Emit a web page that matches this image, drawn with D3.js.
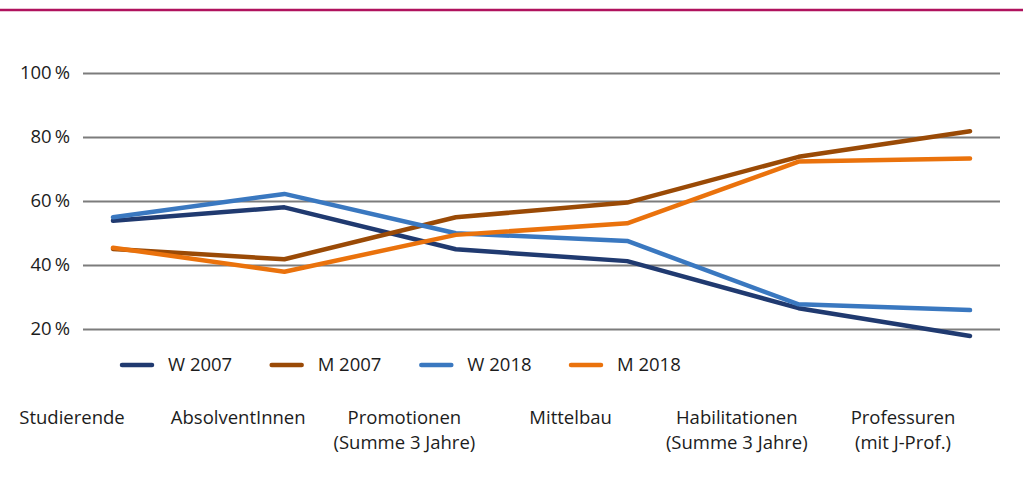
<!DOCTYPE html>
<html>
<head>
<meta charset="utf-8">
<script src="https://cdn.jsdelivr.net/npm/d3@7"></script>
<style>
  body { margin: 0; background: #fff; }
  svg { display: block; font-family: "Open Sans", sans-serif; }
</style>
</head>
<body>
<svg id="chart"></svg>
<script>
// categories (x axis) and two-line labels
var categories = ["Studierende", "AbsolventInnen", "Promotionen", "Mittelbau", "Habilitationen", "Professuren"];
var categoryLabels = [
  ["Studierende"],
  ["AbsolventInnen"],
  ["Promotionen", "(Summe 3 Jahre)"],
  ["Mittelbau"],
  ["Habilitationen", "(Summe 3 Jahre)"],
  ["Professuren", "(mit J-Prof.)"]
];

// shares in percent
var w2007 = [54, 58.2, 45.1, 41.4, 26.7, 18];
var m2007 = [45.2, 42, 55.1, 59.7, 74, 82];
var w2018 = [55.1, 62.4, 50.1, 47.7, 27.9, 26.1];
var m2018 = [45.6, 38.1, 49.6, 53.2, 72.5, 73.5];

var seriesNames = ["W 2007", "M 2007", "W 2018", "M 2018"];
var yTicks = [20, 40, 60, 80, 100];

var series = [
  {name: seriesNames[0], values: w2007, color: "#203a70"},
  {name: seriesNames[1], values: m2007, color: "#9a4a06"},
  {name: seriesNames[2], values: w2018, color: "#3a78c0"},
  {name: seriesNames[3], values: m2018, color: "#ea720c"}
];

var width = 1023, height = 482;
var fontSize = 18.5, textColor = "#1c1c1c";

var svg = d3.select("#chart")
  .attr("width", width)
  .attr("height", height);

// magenta rule on top
svg.append("line")
  .attr("x1", 0).attr("x2", width)
  .attr("y1", 10).attr("y2", 10)
  .attr("stroke", "#b0125e")
  .attr("stroke-width", 2.5);

var x = d3.scalePoint()
  .domain(categories)
  .range([113, 970]);

var xLabel = d3.scalePoint()
  .domain(categories)
  .range([72, 903]);

var y = d3.scaleLinear()
  .domain([20, 100])
  .range([329.6, 73.6]);

// grid + y labels
var grid = svg.append("g");
grid.selectAll("line")
  .data(yTicks)
  .enter().append("line")
  .attr("x1", 83).attr("x2", 1000)
  .attr("y1", d => y(d)).attr("y2", d => y(d))
  .attr("stroke", "#7c7c7c")
  .attr("stroke-width", 2);

grid.selectAll("text")
  .data(yTicks)
  .enter().append("text")
  .attr("x", 70)
  .attr("y", d => y(d))
  .attr("dy", "0.3em")
  .attr("text-anchor", "end")
  .attr("font-size", fontSize)
  .attr("fill", textColor)
  .text(d => d + "\u2009%");

// lines
var line = d3.line()
  .x((d, i) => x(categories[i]))
  .y(d => y(d));

svg.append("g")
  .attr("fill", "none")
  .attr("stroke-width", 4.5)
  .attr("stroke-linejoin", "round")
  .attr("stroke-linecap", "round")
  .selectAll("path")
  .data(series)
  .enter().append("path")
  .attr("stroke", d => d.color)
  .attr("d", d => line(d.values));

// legend
var legendX = d3.scalePoint()
  .domain(seriesNames)
  .range([122, 571]);

var legend = svg.append("g")
  .selectAll("g")
  .data(series)
  .enter().append("g")
  .attr("transform", d => "translate(" + legendX(d.name) + ",365)");

legend.append("line")
  .attr("x1", 0).attr("x2", 30)
  .attr("stroke", d => d.color)
  .attr("stroke-width", 4.5)
  .attr("stroke-linecap", "round");

legend.append("text")
  .attr("x", 46)
  .attr("dy", "0.33em")
  .attr("font-size", fontSize)
  .attr("fill", textColor)
  .text(d => d.name);

// category labels
var labels = svg.append("g")
  .selectAll("text")
  .data(categories)
  .enter().append("text")
  .attr("x", d => xLabel(d))
  .attr("y", 424)
  .attr("text-anchor", "middle")
  .attr("font-size", fontSize)
  .attr("fill", textColor);

labels.selectAll("tspan")
  .data((d, i) => categoryLabels[i])
  .enter().append("tspan")
  .attr("x", function() { return this.parentNode.getAttribute("x"); })
  .attr("dy", (d, i) => i === 0 ? 0 : 25)
  .text(d => d);
</script>
</body>
</html>
